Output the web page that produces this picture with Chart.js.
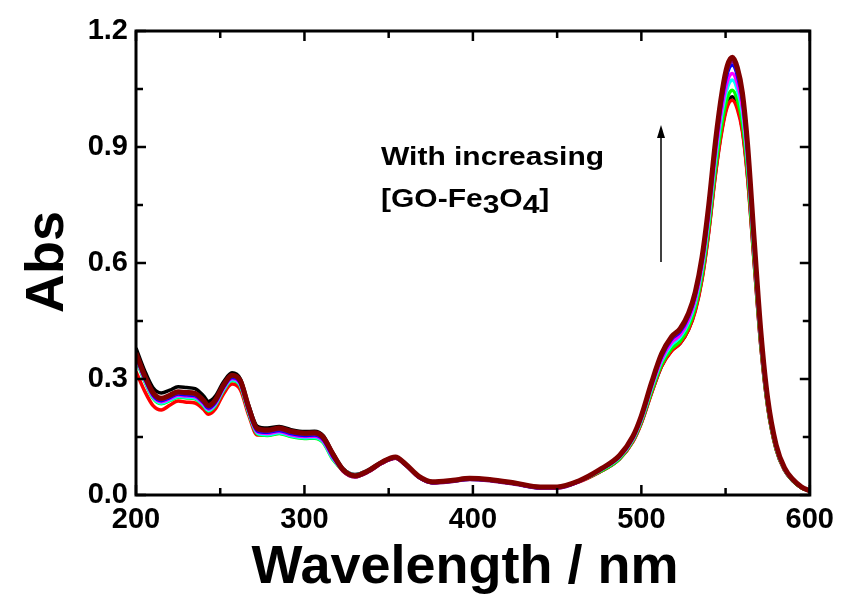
<!DOCTYPE html>
<html>
<head>
<meta charset="utf-8">
<script src="https://cdn.jsdelivr.net/npm/chart.js@4/dist/chart.umd.min.js"></script>
<style>
  html, body { margin: 0; padding: 0; background: #fff; }
  #wrap { width: 842px; height: 601px; position: relative; }
</style>
</head>
<body>
<div id="wrap"><canvas id="myChart"></canvas></div>
<script>
// wavelength (nm)
const wavelengths = [200,205,210,215,220,225,230,235,240,243,247,252,257,262,267,272,278,285,292,300,306,311,317,
  323,330,338,346,354,360,368,376,388,398,410,425,440,450,463,
  475,487,495,500,506,512,518,523,528,532,536,540,544,548,551,554,557,560,563,567,571,575,580,585,590,595,600];

// absorbance, one list per spectrum
const absBlack = [0.38,0.323,0.278,0.264,0.271,0.28,0.278,0.275,0.257,0.242,0.255,0.293,0.316,0.3,0.231,0.178,0.173,0.177,0.169,0.164,0.165,0.154,0.108,
  0.068,0.053,0.065,0.086,0.098,0.08,0.048,0.034,0.038,0.043,0.04,0.031,0.021,0.021,0.036,
  0.059,0.093,0.139,0.187,0.264,0.333,0.374,0.392,0.428,0.478,0.56,0.683,0.833,0.951,1.01,1.03,1.006,0.946,0.828,0.601,0.382,0.228,0.118,0.064,0.036,0.019,0.01];
const absRed = [0.319,0.27,0.232,0.22,0.232,0.243,0.24,0.238,0.222,0.209,0.222,0.262,0.287,0.272,0.205,0.155,0.155,0.16,0.153,0.148,0.149,0.139,0.097,
  0.061,0.047,0.06,0.082,0.095,0.078,0.046,0.032,0.037,0.042,0.039,0.03,0.02,0.02,0.034,
  0.059,0.093,0.138,0.186,0.263,0.333,0.373,0.392,0.427,0.476,0.557,0.679,0.829,0.946,1.004,1.021,0.998,0.94,0.823,0.598,0.381,0.227,0.118,0.064,0.037,0.019,0.01];
const absGreen = [0.353,0.296,0.251,0.236,0.244,0.253,0.251,0.249,0.231,0.217,0.231,0.271,0.296,0.281,0.211,0.158,0.154,0.159,0.151,0.146,0.147,0.136,0.091,
  0.064,0.049,0.062,0.084,0.096,0.078,0.046,0.032,0.036,0.041,0.038,0.029,0.019,0.02,0.035,
  0.06,0.094,0.141,0.19,0.268,0.338,0.379,0.398,0.435,0.486,0.569,0.694,0.846,0.967,1.027,1.047,1.022,0.962,0.842,0.611,0.389,0.231,0.12,0.065,0.037,0.019,0.01];
const absCyan = [0.355,0.298,0.253,0.238,0.246,0.255,0.253,0.251,0.233,0.219,0.233,0.273,0.298,0.283,0.213,0.16,0.156,0.161,0.153,0.148,0.149,0.138,0.093,
  0.066,0.052,0.064,0.085,0.097,0.079,0.047,0.033,0.037,0.042,0.039,0.03,0.02,0.02,0.036,
  0.062,0.097,0.144,0.194,0.275,0.346,0.389,0.408,0.446,0.498,0.583,0.711,0.867,0.991,1.052,1.073,1.048,0.986,0.863,0.626,0.398,0.237,0.123,0.066,0.038,0.02,0.01];
const absMagenta = [0.358,0.301,0.256,0.241,0.249,0.258,0.256,0.254,0.236,0.222,0.236,0.276,0.301,0.286,0.216,0.163,0.159,0.164,0.156,0.151,0.152,0.141,0.096,
  0.063,0.048,0.061,0.083,0.096,0.078,0.046,0.032,0.036,0.041,0.038,0.029,0.019,0.019,0.035,
  0.063,0.098,0.146,0.197,0.279,0.351,0.395,0.414,0.453,0.506,0.592,0.722,0.881,1.006,1.069,1.09,1.064,1.002,0.876,0.636,0.404,0.241,0.125,0.067,0.039,0.02,0.011];
const absBlue = [0.361,0.304,0.259,0.244,0.252,0.261,0.259,0.257,0.239,0.225,0.239,0.279,0.304,0.289,0.219,0.166,0.162,0.167,0.159,0.154,0.155,0.144,0.099,
  0.063,0.048,0.061,0.083,0.096,0.078,0.046,0.032,0.036,0.041,0.038,0.029,0.019,0.019,0.035,
  0.064,0.1,0.149,0.201,0.285,0.358,0.403,0.422,0.462,0.516,0.604,0.737,0.899,1.026,1.09,1.112,1.085,1.021,0.894,0.648,0.412,0.246,0.128,0.069,0.039,0.021,0.011];
const absPurple = [0.364,0.307,0.262,0.247,0.255,0.264,0.262,0.26,0.242,0.228,0.242,0.282,0.307,0.292,0.222,0.169,0.165,0.17,0.162,0.157,0.158,0.147,0.102,
  0.062,0.047,0.06,0.082,0.095,0.077,0.045,0.031,0.035,0.04,0.037,0.028,0.018,0.018,0.035,
  0.064,0.101,0.15,0.203,0.287,0.361,0.406,0.426,0.465,0.52,0.609,0.743,0.906,1.035,1.099,1.121,1.094,1.03,0.901,0.653,0.416,0.248,0.129,0.069,0.04,0.021,0.011];
const absDarkRed = [0.367,0.31,0.265,0.25,0.258,0.267,0.265,0.263,0.245,0.231,0.245,0.285,0.31,0.295,0.225,0.172,0.168,0.173,0.165,0.16,0.161,0.15,0.105,
  0.065,0.05,0.063,0.085,0.098,0.08,0.048,0.034,0.038,0.043,0.04,0.031,0.021,0.021,0.037,
  0.065,0.102,0.152,0.205,0.29,0.365,0.41,0.43,0.47,0.525,0.615,0.75,0.915,1.045,1.11,1.132,1.105,1.04,0.91,0.66,0.42,0.25,0.13,0.07,0.04,0.021,0.011];

const xTickValues = [200,250,300,350,400,450,500,550,600];
const yTickValues = [0,0.15,0.3,0.45,0.6,0.75,0.9,1.05,1.2];

function pts(vals){
    return wavelengths.map((w, i) => ({x: w, y: vals[i]}));
}

// dataset 0 is drawn on top
const series = [
    {color: '#800000', vals: absDarkRed, w: 5},
    {color: '#800080', vals: absPurple, w: 3.5},
    {color: '#0000ff', vals: absBlue, w: 3.5},
    {color: '#ff00ff', vals: absMagenta, w: 3.5},
    {color: '#00ffff', vals: absCyan, w: 3.5},
    {color: '#00ff00', vals: absGreen, w: 3.5},
    {color: '#ff0000', vals: absRed, w: 3.5},
    {color: '#000000', vals: absBlack, w: 3.5}
];

const frameAndText = {
    id: 'frameAndText',
    afterDatasetsDraw(chart){
        const {ctx, chartArea: a, scales: {x, y}} = chart;
        ctx.save();
        ctx.strokeStyle = '#000';
        ctx.lineWidth = 3;
        ctx.strokeRect(a.left, a.top, a.right - a.left, a.bottom - a.top);
        ctx.lineWidth = 2.5;
        ctx.beginPath();
        xTickValues.forEach(v => {
            const px = x.getPixelForValue(v);
            const len = (v % 100 === 0) ? 10 : 7;
            ctx.moveTo(px, a.bottom); ctx.lineTo(px, a.bottom - len);
            ctx.moveTo(px, a.top); ctx.lineTo(px, a.top + len);
        });
        yTickValues.forEach((v, i) => {
            const py = y.getPixelForValue(v);
            const len = (i % 2 === 0) ? 10 : 7;
            ctx.moveTo(a.left, py); ctx.lineTo(a.left + len, py);
            ctx.moveTo(a.right, py); ctx.lineTo(a.right - len, py);
        });
        ctx.stroke();

        // axis titles
        ctx.fillStyle = '#000';
        ctx.font = 'bold 54px "Liberation Sans", Arial, sans-serif';
        ctx.textAlign = 'center';
        ctx.textBaseline = 'middle';
        ctx.fillText('Wavelength / nm', 465, 568);
        ctx.save();
        ctx.translate(48, 262);
        ctx.rotate(-Math.PI / 2);
        ctx.fillText('Abs', 0, 0);
        ctx.restore();

        // annotation (text is a bit stretched sideways in the original)
        ctx.save();
        ctx.translate(381, 0);
        ctx.scale(1.2, 1);
        ctx.font = 'bold 25px "Liberation Sans", Arial, sans-serif';
        ctx.textAlign = 'left';
        ctx.textBaseline = 'alphabetic';
        ctx.fillText('With increasing', 0, 165);
        let tx = 0;
        const parts = [['[GO-Fe', 0], ['3', 6], ['O', 0], ['4', 6], [']', 0]];
        parts.forEach(([s, dy]) => {
            ctx.fillText(s, tx, 207 + dy);
            tx += ctx.measureText(s).width;
        });
        ctx.restore();

        // arrow
        ctx.lineWidth = 1.5;
        ctx.beginPath();
        ctx.moveTo(661, 262);
        ctx.lineTo(661, 135);
        ctx.stroke();
        ctx.beginPath();
        ctx.moveTo(661, 125);
        ctx.lineTo(657, 138);
        ctx.lineTo(665, 138);
        ctx.closePath();
        ctx.fill();
        ctx.restore();
    }
};

const tickFont = {family: '"Liberation Sans", Arial, sans-serif', size: 29, weight: 'bold'};

const config = {
    type: 'line',
    data: {
        datasets: series.map(s => ({
            data: pts(s.vals),
            borderColor: s.color,
            backgroundColor: s.color,
            borderWidth: s.w,
            pointRadius: 0,
            cubicInterpolationMode: 'monotone',
            fill: false
        }))
    },
    options: {
        responsive: true,
        maintainAspectRatio: false,
        animation: false,
        layout: {padding: {left: 0, right: 30, top: 31, bottom: 0}},
        plugins: {legend: {display: false}, tooltip: {enabled: false}},
        scales: {
            x: {
                type: 'linear',
                min: 200, max: 600,
                grid: {display: false, drawTicks: false},
                border: {display: false},
                ticks: {stepSize: 100, padding: 8, color: '#000', font: tickFont},
                afterFit(scale){ scale.height = 106; }
            },
            y: {
                min: 0, max: 1.2,
                grid: {display: false, drawTicks: false},
                border: {display: false},
                ticks: {
                    stepSize: 0.3, padding: 8, color: '#000', font: tickFont,
                    callback: v => Number(v).toFixed(1)
                },
                afterFit(scale){ scale.width = 136; }
            }
        }
    },
    plugins: [frameAndText]
};

const chart = new Chart(document.getElementById('myChart'), config);
</script>
</body>
</html>
